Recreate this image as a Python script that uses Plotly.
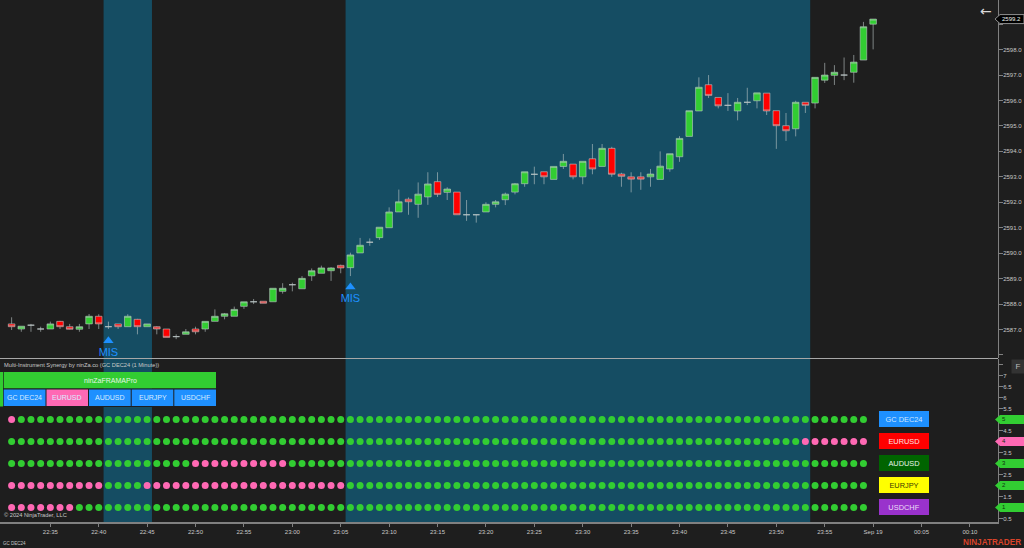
import pandas as pd
import plotly.graph_objects as go

# 1 minute bars, GC DEC24
times = pd.date_range("2024-09-18 22:31", periods=90, freq="min")

opens = [2587.22, 2587.02, 2587.17, 2587.02, 2587.02, 2587.32, 2587.11, 2587.01, 2587.22, 2587.52,
         2587.11, 2587.22, 2587.11, 2587.40, 2587.11, 2587.11, 2587.02, 2586.72, 2586.81, 2587.02,
         2587.02, 2587.32, 2587.52, 2587.52, 2587.91, 2588.09, 2588.11, 2588.09, 2588.50, 2588.76,
         2588.60, 2589.11, 2589.21, 2589.31, 2589.52, 2589.43, 2590.01, 2590.43, 2590.61, 2591.00,
         2591.62, 2592.12, 2591.92, 2592.21, 2592.81, 2592.39, 2592.40, 2591.51, 2591.51, 2591.62,
         2591.92, 2592.10, 2592.40, 2592.73, 2593.10, 2593.20, 2592.90, 2593.41, 2593.50, 2593.00,
         2593.71, 2593.41, 2594.12, 2593.11, 2593.00, 2593.00, 2593.00, 2592.90, 2593.31, 2593.79,
         2594.59, 2595.59, 2596.62, 2596.12, 2595.81, 2595.59, 2595.93, 2595.99, 2596.29, 2595.60,
         2595.01, 2594.89, 2595.93, 2595.90, 2596.80, 2596.99, 2597.00, 2597.11, 2597.59, 2599.00]
highs = [2587.48, 2587.13, 2587.22, 2587.11, 2587.31, 2587.34, 2587.22, 2587.22, 2587.61, 2587.60,
         2587.31, 2587.22, 2587.60, 2587.42, 2587.22, 2587.13, 2587.02, 2586.81, 2587.02, 2587.11,
         2587.32, 2587.79, 2587.65, 2587.90, 2588.09, 2588.20, 2588.11, 2588.62, 2588.82, 2588.84,
         2589.10, 2589.40, 2589.51, 2589.45, 2589.55, 2590.02, 2590.60, 2590.58, 2591.02, 2591.80,
         2592.50, 2592.19, 2592.78, 2593.18, 2593.18, 2592.59, 2592.40, 2592.09, 2591.51, 2592.00,
         2592.09, 2592.38, 2592.76, 2593.20, 2593.40, 2593.20, 2593.41, 2593.90, 2593.50, 2593.61,
         2594.29, 2594.29, 2594.18, 2593.16, 2593.18, 2593.18, 2593.31, 2594.00, 2593.91, 2594.60,
         2595.60, 2596.91, 2597.00, 2596.12, 2596.29, 2596.10, 2596.50, 2596.30, 2596.29, 2595.60,
         2595.51, 2595.99, 2595.93, 2596.91, 2597.48, 2597.39, 2597.69, 2597.79, 2599.09, 2599.20]
lows = [2586.98, 2586.91, 2586.91, 2586.91, 2587.02, 2587.02, 2587.00, 2586.91, 2587.02, 2587.02,
        2587.02, 2587.02, 2587.11, 2586.81, 2587.11, 2586.81, 2586.69, 2586.62, 2586.81, 2586.81,
        2586.91, 2587.32, 2587.40, 2587.52, 2587.81, 2588.00, 2588.03, 2588.09, 2588.41, 2588.50,
        2588.60, 2588.91, 2589.21, 2588.91, 2589.21, 2589.10, 2590.01, 2590.29, 2590.52, 2591.00,
        2591.62, 2591.51, 2591.39, 2591.90, 2592.21, 2592.09, 2591.51, 2591.27, 2591.20, 2591.62,
        2591.80, 2591.89, 2592.31, 2592.61, 2592.71, 2592.71, 2592.90, 2593.31, 2592.90, 2592.71,
        2593.10, 2593.41, 2593.00, 2592.61, 2592.39, 2592.49, 2592.61, 2592.90, 2593.20, 2593.59,
        2594.59, 2595.59, 2596.10, 2595.69, 2595.59, 2595.22, 2595.82, 2595.69, 2595.43, 2594.10,
        2594.41, 2594.59, 2595.51, 2595.69, 2596.69, 2596.61, 2596.80, 2596.70, 2597.59, 2598.01]
closes = [2587.11, 2587.13, 2587.17, 2587.02, 2587.22, 2587.11, 2587.01, 2587.11, 2587.52, 2587.22,
          2587.11, 2587.11, 2587.52, 2587.11, 2587.22, 2587.02, 2586.69, 2586.72, 2586.91, 2586.91,
          2587.32, 2587.52, 2587.62, 2587.79, 2588.09, 2588.09, 2588.03, 2588.62, 2588.62, 2588.76,
          2589.01, 2589.31, 2589.42, 2589.42, 2589.42, 2589.93, 2590.31, 2590.43, 2591.02, 2591.62,
          2592.02, 2592.02, 2592.32, 2592.72, 2592.31, 2592.52, 2591.51, 2591.51, 2591.51, 2591.92,
          2592.02, 2592.32, 2592.73, 2593.20, 2593.10, 2593.00, 2593.41, 2593.61, 2593.00, 2593.61,
          2593.31, 2594.12, 2593.10, 2593.02, 2592.91, 2592.91, 2593.11, 2593.42, 2593.91, 2594.51,
          2595.60, 2596.52, 2596.20, 2595.79, 2595.81, 2595.93, 2595.93, 2596.30, 2595.59, 2595.01,
          2594.81, 2595.93, 2595.81, 2596.91, 2597.00, 2597.11, 2597.00, 2597.51, 2598.90, 2599.20]

# highlighted background spans
span_starts = ["2024-09-18 22:40:30", "2024-09-18 23:05:30"]
span_ends = ["2024-09-18 22:45:30", "2024-09-18 23:53:30"]

# MIS signals
mis_times = ["2024-09-18 22:41", "2024-09-18 23:06"]
mis_prices = [2586.56, 2588.67]

# synergy rows, bars listed here are pink, the rest green
# the dots stop one bar before the last candle
instruments = ["GC DEC24", "EURUSD", "AUDUSD", "EURJPY", "USDCHF"]
row_values = [5, 4, 3, 2, 1]
pink_bars = [
    [0],
    [82, 83, 84, 85, 86, 87, 88],
    [19, 20, 21, 22, 23, 24, 25, 26, 27, 28],
    [0, 1, 2, 3, 4, 5, 6, 7, 8, 9, 14, 15, 16, 17, 18, 19, 20, 21, 22, 23, 24, 25, 26, 27, 28, 29, 30, 31, 32, 33, 34],
    [0, 1, 2, 3, 4, 5, 6],
]
label_colors = ["#1E90FF", "#FF0000", "#006400", "#FFFF00", "#9932CC"]
label_text_colors = ["#cfe6ff", "#ffe0e0", "#e8f5e8", "#3a3a00", "#eddcf7"]
flag_colors = ["#32CD32", "#FF69B4", "#32CD32", "#32CD32", "#32CD32"]

# axis ticks
time_ticks = ["2024-09-18 22:35", "2024-09-18 22:40", "2024-09-18 22:45", "2024-09-18 22:50", "2024-09-18 22:55",
              "2024-09-18 23:00", "2024-09-18 23:05", "2024-09-18 23:10", "2024-09-18 23:15", "2024-09-18 23:20",
              "2024-09-18 23:25", "2024-09-18 23:30", "2024-09-18 23:35", "2024-09-18 23:40", "2024-09-18 23:45",
              "2024-09-18 23:50", "2024-09-18 23:55", "2024-09-19 00:00", "2024-09-19 00:05", "2024-09-19 00:10"]
time_labels = ["22:35", "22:40", "22:45", "22:50", "22:55", "23:00", "23:05", "23:10", "23:15", "23:20",
               "23:25", "23:30", "23:35", "23:40", "23:45", "23:50", "23:55", "Sep 19", "00:05", "00:10"]
price_ticks = [2586, 2587, 2588, 2589, 2590, 2591, 2592, 2593, 2594, 2595, 2596, 2597, 2598, 2599]
price_labels = ["", "2587.0", "2588.0", "2589.0", "2590.0", "2591.0", "2592.0", "2593.0", "2594.0", "2595.0",
                "2596.0", "2597.0", "2598.0", ""]
row_ticks = [0.5, 1, 1.5, 2, 2.5, 3, 3.5, 4, 4.5, 5, 5.5, 6, 6.5, 7, 7.5]
row_labels = ["0.5", "", "1.5", "", "2.5", "", "3.5", "", "4.5", "", "5.5", "6", "6.5", "7", ""]

# panel buttons, pixel layout of the indicator header
button_names = ["GC DEC24", "EURUSD", "AUDUSD", "EURJPY", "USDCHF"]
button_colors = ["#1E90FF", "#FF69B4", "#1E90FF", "#1E90FF", "#1E90FF"]
button_lefts = [3.7, 46.5, 89, 131.7, 174.3]
button_rights = [45.5, 88, 130.7, 173.3, 216]

W, H = 1024, 548
BG = "#1e1e1e"
TEAL = "#154d63"
GREEN = "#32CD32"
PINK = "#FF69B4"
AXIS = "#808080"
TEXT = "#c8c8c8"
FONT = "Liberation Sans"


def px(x):
    return x / W


def py(y):
    return 1 - y / H


fig = go.Figure()

for start, end in zip(span_starts, span_ends):
    fig.add_shape(type="rect", xref="x", yref="paper", x0=start, x1=end, y0=py(522), y1=1,
                  fillcolor=TEAL, line_width=0, layer="below")

fig.add_trace(go.Candlestick(
    x=times, open=opens, high=highs, low=lows, close=closes,
    increasing=dict(fillcolor=GREEN, line=dict(color="rgba(190,200,200,0.6)", width=1)),
    decreasing=dict(fillcolor="#FF0000", line=dict(color="rgba(190,200,200,0.6)", width=1)),
    whiskerwidth=0, showlegend=False, hoverinfo="skip", xaxis="x", yaxis="y"))

fig.add_trace(go.Scatter(
    x=mis_times, y=mis_prices, mode="markers+text", text=["MIS", "MIS"], textposition="bottom center",
    textfont=dict(family=FONT, size=11, color="#1E90FF"),
    marker=dict(symbol="triangle-up", size=9, color="#1E90FF"),
    showlegend=False, xaxis="x", yaxis="y"))

dot_times = times[:-1]
for value, pink in zip(row_values, pink_bars):
    colors = [PINK if i in pink else GREEN for i in range(len(dot_times))]
    fig.add_trace(go.Scatter(
        x=dot_times, y=[value] * len(dot_times), mode="markers",
        marker=dict(size=7, color=colors, line_width=0),
        showlegend=False, xaxis="x2", yaxis="y2"))

# header of the indicator panel
fig.add_shape(type="rect", xref="paper", yref="paper", x0=px(0), x1=px(3), y0=py(406.5), y1=py(372),
              fillcolor=GREEN, line_width=0)
fig.add_shape(type="rect", xref="paper", yref="paper", x0=px(3.7), x1=px(216), y0=py(388.5), y1=py(372),
              fillcolor=GREEN, line_width=0)
fig.add_shape(type="rect", xref="paper", yref="paper", x0=px(3), x1=px(217), y0=py(407), y1=py(388.5),
              fillcolor=BG, line_width=0)
annotations = [dict(x=px(110), y=py(380.5), text="ninZaFRAMAPro", font=dict(size=7, color="#e6f5e6"))]
for name, color, left, right in zip(button_names, button_colors, button_lefts, button_rights):
    fig.add_shape(type="rect", xref="paper", yref="paper", x0=px(left), x1=px(right), y0=py(406), y1=py(389.5),
                  fillcolor=color, line_width=0)
    annotations.append(dict(x=px((left + right) / 2), y=py(398), text=name, font=dict(size=7, color="#d9ecff")))

annotations += [
    dict(x=px(1.5), y=py(365), text="Multi-Instrument Synergy by ninZa.co (GC DEC24 (1 Minute))",
         xanchor="left", font=dict(size=5.7, color=TEXT)),
    dict(x=px(1.5), y=py(515), text="© 2024 NinjaTrader, LLC", xanchor="left", font=dict(size=5.7, color=TEXT)),
    dict(x=px(1), y=py(543), text="GC DEC24", xanchor="left", font=dict(size=4.5, color=TEXT)),
    dict(x=px(1023), y=py(542), text="<b>NINJATRADER</b>", xanchor="right", font=dict(size=8.2, color="#d9432a")),
    dict(x=px(985.5), y=py(11), text="←", font=dict(size=14, color="#d8d8d8", family="DejaVu Sans")),
    dict(x=px(1018), y=py(366), text="F", width=10, height=11, bgcolor="#333333", font=dict(size=8, color="#bbbbbb")),
]

# instrument labels next to the dots
for value, name, color, text_color in zip(row_values, instruments, label_colors, label_text_colors):
    annotations.append(dict(x=px(904), y=value, yref="y2", text=name, width=50, height=16, bgcolor=color,
                            borderpad=0, borderwidth=0, font=dict(size=7.4, color=text_color)))

# value flags on the right axis
flag_path = "M 0 0 L 5 -4.5 L 29 -4.5 L 29 4.5 L 5 4.5 Z"
for value, color in zip(row_values, flag_colors):
    fig.add_shape(type="path", xref="paper", yref="y2", xsizemode="pixel", ysizemode="pixel",
                  xanchor=px(995), yanchor=value, path=flag_path, fillcolor=color, line_width=0)
    annotations.append(dict(x=px(1004), y=value, yref="y2", text=str(value), font=dict(size=6, color="#103010")))
fig.add_shape(type="path", xref="paper", yref="y", xsizemode="pixel", ysizemode="pixel",
              xanchor=px(995), yanchor=closes[-1], path=flag_path, fillcolor="#000000",
              line=dict(color="#909090", width=1))
annotations.append(dict(x=px(1011.5), y=closes[-1], yref="y", text="2599.2", font=dict(size=6, color="#f0f0f0")))

fig.add_shape(type="line", xref="paper", yref="paper", x0=0, x1=px(998), y0=py(358.5), y1=py(358.5),
              line=dict(color="#a8a8a8", width=1))

for a in annotations:
    a.setdefault("xref", "paper")
    a.setdefault("yref", "paper")
    a.setdefault("showarrow", False)
    a.setdefault("xanchor", "center")
    a.setdefault("yanchor", "middle")
    a["font"].setdefault("family", FONT)

x_range = ["2024-09-18 22:29:48", "2024-09-19 00:12:54"]
y_style = dict(side="right", showgrid=False, zeroline=False, showline=True, linecolor=AXIS, linewidth=1,
               ticks="outside", ticklen=4, tickcolor=AXIS, tickwidth=1, tickmode="array", ticklabelstandoff=-1,
               tickfont=dict(family=FONT, size=6, color=TEXT), fixedrange=True)

fig.update_layout(
    width=W, height=H, margin=dict(l=0, r=0, t=0, b=0, autoexpand=False),
    paper_bgcolor=BG, plot_bgcolor="rgba(0,0,0,0)", showlegend=False,
    boxgap=0.15, boxgroupgap=0.2,
    xaxis=dict(domain=[0, px(998)], range=x_range, rangeslider_visible=False, showticklabels=False, ticks="",
               showgrid=False, zeroline=False, showline=False, anchor="y", tickmode="array", tickvals=time_ticks),
    xaxis2=dict(domain=[0, px(998)], range=x_range, matches="x", anchor="y2", showgrid=False, zeroline=False,
                showline=True, linecolor=AXIS, linewidth=2, ticks="outside", ticklen=3, tickcolor=AXIS,
                tickmode="array", tickvals=time_ticks, ticktext=time_labels, tickangle=0,
                tickfont=dict(family=FONT, size=6, color=TEXT)),
    yaxis=dict(domain=[py(358), 1], range=[2585.88, 2599.95], anchor="x", tickvals=price_ticks,
               ticktext=price_labels, **y_style),
    yaxis2=dict(domain=[py(522), py(358.5)], range=[0.34, 7.77], anchor="x2", tickvals=row_ticks,
                ticktext=row_labels, **y_style),
    annotations=annotations,
)

fig.write_html("out.html", config=dict(displayModeBar=False), post_script="document.body.style.margin='0';")
